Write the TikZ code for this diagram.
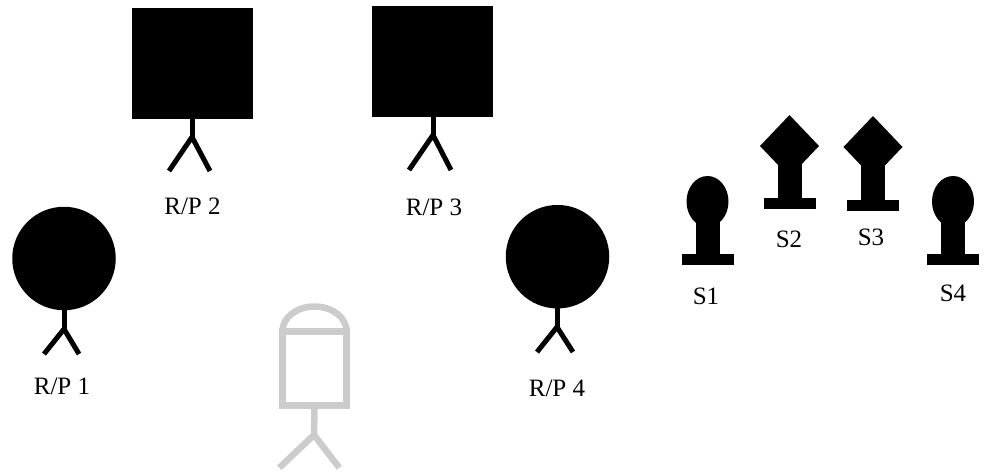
\documentclass[tikz,border=0pt]{standalone}
\usepackage{fontspec}
\setmainfont{Liberation Serif}
\usetikzlibrary{positioning,shapes.geometric}
\definecolor{ghost}{HTML}{CCCCCC}
\tikzset{
    %Define style for heads
    roundhead/.style={
           circle,
           fill=black,
           inner sep=0pt, outer sep=0pt,
           minimum size=103.5pt},
    squarehead/.style={
           rectangle,
           fill=black,
           inner sep=0pt, outer sep=0pt,
           minimum width=121pt, minimum height=111pt},
    %Define style for sensors
    ballhead/.style={
           ellipse,
           fill=black,
           inner sep=0pt, outer sep=0pt,
           minimum width=42pt, minimum height=51pt},
    diamondhead/.style={
           diamond,
           fill=black,
           inner sep=0pt, outer sep=0pt,
           minimum width=59pt, minimum height=62pt},
    sensorbase/.style={
           rectangle,
           fill=black,
           inner sep=0pt, outer sep=0pt,
           minimum width=52pt, minimum height=11pt},
    lbl/.style={font=\fontsize{25}{30}\selectfont, inner sep=0pt},
    % Define line style
    leg/.style={black, line width=5pt},
    ghostleg/.style={ghost, line width=6.5pt},
    sensorstem/.style={black, line width=24pt}
}

\begin{document}
\begin{tikzpicture}[x=1pt,y=-1pt]
\useasboundingbox (0,0) rectangle (986,472);
 %speakers
\node[roundhead](rp1) at (64,258.5){};
\node[squarehead](rp2) at (192.5,63.5){};
\node[squarehead](rp3) at (432.5,61.5){};
\node[roundhead](rp4) at (557.5,256.7){};
 %feet
\coordinate (hip1) at (64,329);
\coordinate (hip2) at (192,137);
\coordinate (hip3) at (433,135);
\coordinate (hip4) at (557,327);
\coordinate (foot1a) at (44,354);
\coordinate (foot1b) at (79,354);
\coordinate (foot2a) at (169,171);
\coordinate (foot2b) at (210,171);
\coordinate (foot3a) at (409,170);
\coordinate (foot3b) at (451,170);
\coordinate (foot4a) at (537,352);
\coordinate (foot4b) at (573,352);
\foreach \n in {1,2,3,4}{
  \draw[leg] (hip\n |- rp\n) -- (hip\n);
  \draw[leg] (foot\n a) -- (hip\n) -- (foot\n b);
}
 %listener
\node[rectangle,draw=ghost,line width=7pt,minimum width=64pt,minimum height=74.5pt,inner sep=0pt,outer sep=3.5pt](body) at (314.5,368.25){};
\draw[ghost,line width=6.5pt] (282.5,331) arc[start angle=180,end angle=360,x radius=32,y radius=24.5];
\coordinate (hip) at (314,435);
\coordinate (foota) at (279.3,467.7);
\coordinate (footb) at (339.3,467.7);
\draw[ghostleg] (body.south) -- (hip);
\draw[ghostleg] (foota) -- (hip) -- (footb);
 %sensors
\node[ballhead](s1) at (707.5,201.5){};
\node[sensorbase](b1) at (707.5,259.5){};
\node[diamondhead](s2) at (789.5,146){};
\node[sensorbase](b2) at (789.5,203.5){};
\node[diamondhead](s3) at (873,147){};
\node[sensorbase](b3) at (873,205.5){};
\node[ballhead](s4) at (953,201.5){};
\node[sensorbase](b4) at (953,259.5){};
\foreach \n in {1,2,3,4}
  \draw[sensorstem] (s\n.center) -- (b\n.north);
 %labels
\node[lbl] (l1) at (62,386){R/P 1};
\node[lbl] (l2) at (192.5,206){R/P 2};
\node[lbl] (l3) at (434,207){R/P 3};
\node[lbl] (l4) at (557,388){R/P 4};
\node[lbl] (ls1) at (706,296){S1};
\node[lbl] (ls2) at (789,239){S2};
\node[lbl] (ls3) at (871,237){S3};
\node[lbl] (ls4) at (953,293){S4};
\end{tikzpicture}
\end{document}
